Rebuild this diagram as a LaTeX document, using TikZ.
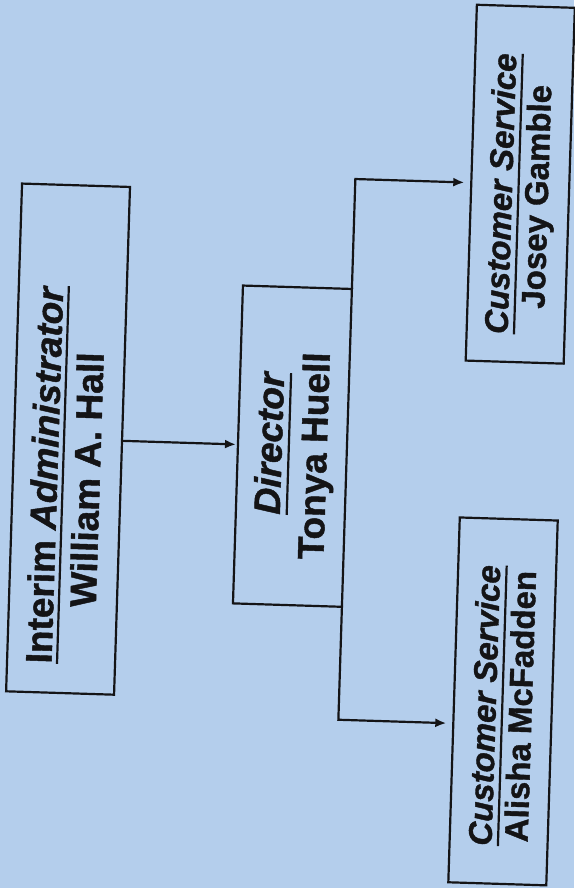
\documentclass[tikz,border=0pt]{standalone}
\usepackage{fontspec}
\setmainfont{Liberation Sans}[BoldFont={Liberation Sans Bold},ItalicFont={Liberation Sans Italic},BoldItalicFont={Liberation Sans Bold Italic},BoldFeatures={FakeBold=1.2},BoldItalicFeatures={FakeBold=1.2}]
\usetikzlibrary{arrows.meta}
\definecolor{bgblue}{HTML}{B4CEEC}
\definecolor{ink}{HTML}{141416}
\newsavebox\myulbox
\newcommand{\myul}[2]{\sbox\myulbox{#2}\rlap{\rule[-#1]{\wd\myulbox}{2.2pt}}\usebox\myulbox}
\begin{document}
\begin{tikzpicture}[x=1pt,y=-1pt,
  box/.style={draw=ink, line width=2.2pt, rectangle, inner sep=0pt, outer sep=0pt},
  conn/.style={draw=ink, line width=2.2pt},
  arr/.style={conn, -{Latex[length=11pt,width=9pt]}},
  bigtext/.style={font=\fontsize{37}{44}\selectfont\bfseries, text=ink, inner sep=0pt, rotate=90, anchor=base},
  smalltext/.style={font=\fontsize{33}{38}\selectfont\bfseries, text=ink, inner sep=0pt, rotate=90, anchor=base}]
\fill[bgblue] (0,0) rectangle (574,888);
\useasboundingbox (0,0) rectangle (574,888);
\begin{scope}[transform canvas={rotate around={-1.8:(287,444)}}]
  % boxes
  \node[box, minimum width=108pt, minimum height=508pt] (admin) at (68,446) {};
  \node[box, minimum width=109pt, minimum height=318pt] (director) at (292.5,446) {};
  \node[box, minimum width=98pt, minimum height=356pt] (josey) at (512,177) {};
  \node[box, minimum width=98pt, minimum height=365pt] (alisha) at (511,694.5) {};
  % texts
  \node[bigtext] (admintitle) at (58.5,482) {\myul{6.6pt}{Interim \textit{Administrator}}};
  \node[bigtext] (adminname) at (101,486) {William A. Hall};
  \node[bigtext] (dirtitle) at (282,444) {\myul{8pt}{\itshape Director}};
  \node[bigtext] (dirname) at (327,455) {Tonya Huell};
  \node[smalltext] (jtitle) at (504,187) {\myul{7.5pt}{\itshape Customer Service}};
  \node[smalltext] (jname) at (540,189) {Josey Gamble};
  \node[smalltext] (atitle) at (504,699) {\myul{7.5pt}{\itshape Customer Service}};
  \node[smalltext] (aname) at (540,699) {Alisha McFadden};
  % connectors
  \coordinate (atip) at (alisha.west |- 0,718);
  \draw[arr, shorten >=2pt] (admin.east) -- (director.west);
  \draw[arr, shorten >=7pt] (director.north east) |- (josey.west);
  \draw[arr, shorten >=7pt] (director.south east) |- (atip);
\end{scope}
\end{tikzpicture}
\end{document}
